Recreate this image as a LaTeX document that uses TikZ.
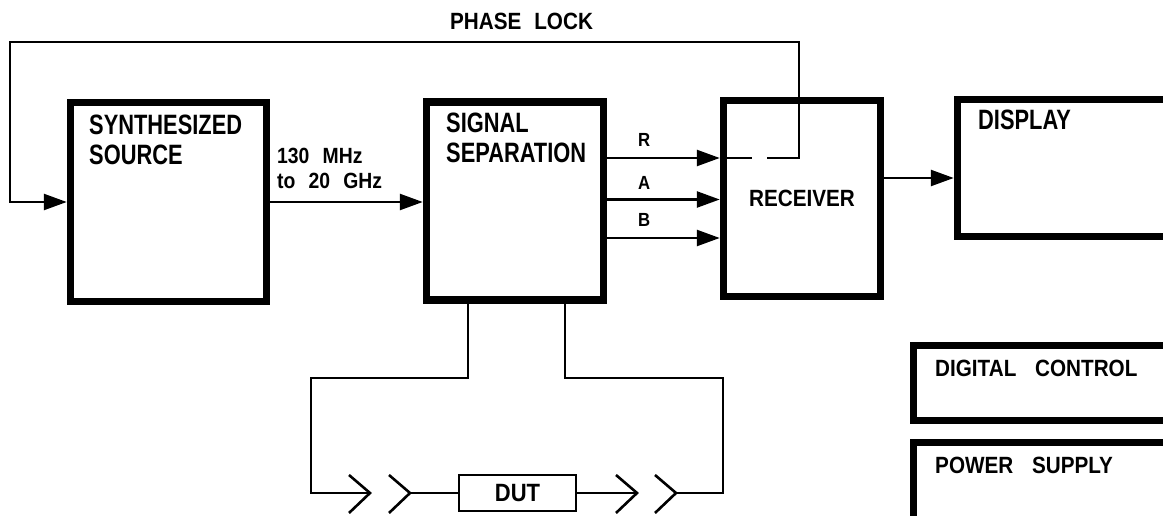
\documentclass[tikz,border=0pt]{standalone}
\usepackage{fontspec}
\usepackage{tikz}
\usetikzlibrary{arrows.meta}
\newfontfamily\ttlfont{Liberation Sans}[FakeStretch=0.78]
\newfontfamily\lblfont{Liberation Sans}[FakeStretch=0.88]
\newcommand{\wgap}{\hspace{0.8em}}

\begin{document}
\begin{tikzpicture}[x=1pt,y=-1pt,
  blk/.style={draw,line width=7.5pt,inner sep=0pt},
  ttl/.style={anchor=north west,inner sep=0pt,align=left,font=\ttlfont\bfseries\fontsize{28}{30}\selectfont},
  lbl/.style={anchor=north west,inner sep=0pt,align=left,font=\lblfont\bfseries\fontsize{23.5}{25}\selectfont},
  sml/.style={lbl,font=\lblfont\bfseries\fontsize{22}{25}\selectfont},
  tag/.style={lbl,font=\lblfont\bfseries\fontsize{19}{20}\selectfont},
  conn/.style={line width=2.6pt,-{Triangle[length=23pt,width=16pt]}},
  wire/.style={line width=2.6pt},
  dutbox/.style={draw,line width=2.6pt,minimum width=117pt,minimum height=36pt,inner sep=0pt,
    font=\lblfont\bfseries\fontsize{25}{27}\selectfont}]
  \clip (0,0) rectangle (1163,516);
  % blocks
  \node[blk,minimum width=196pt,minimum height=199pt] (src) at (168.5,202) {};
  \node[blk,minimum width=177pt,minimum height=198pt] (sep) at (515,201) {};
  \node[blk,minimum width=157pt,minimum height=196pt,
        font=\lblfont\bfseries\fontsize{23.5}{25}\selectfont] (rcv) at (802,198.5) {RECEIVER};
  \node[blk,minimum width=300pt,minimum height=137pt] (disp) at (1107.5,168) {};
  \node[blk,minimum width=340pt,minimum height=75pt] (dig) at (1083.5,383) {};
  \node[blk,minimum width=340pt,minimum height=140pt] (pwr) at (1083.5,512.5) {};
  % titles
  \node[ttl] (srcT) at (89,115) {SYNTHESIZED\\SOURCE};
  \node[ttl] (sepT) at (446,113) {SIGNAL\\SEPARATION};
  \node[ttl] (dispT) at (978,110) {DISPLAY};
  \node[lbl] (digT) at (935,360) {DIGITAL\wgap CONTROL};
  \node[lbl] (pwrT) at (935,457) {POWER\wgap SUPPLY};
  \node[lbl] (lockT) at (450,13) {PHASE\hspace{0.55em}LOCK};
  \node[sml] (freqT) at (277,148) {130\hspace{0.6em}MHz\\to\hspace{0.6em}20\hspace{0.6em}GHz};
  \node[tag] (rT) at (638,133) {R};
  \node[tag] (aT) at (638,176) {A};
  \node[tag] (bT) at (638,213) {B};
  % signal paths
  \coordinate (yR) at (0,158);
  \coordinate (yA) at (0,199.5);
  \coordinate (yB) at (0,238);
  \coordinate (yD) at (0,178);
  \draw[conn] (src.east) -- (src.east -| sep.west);
  \draw[conn] (sep.east |- yR) -- (rcv.west |- yR);
  \draw[conn] (sep.east |- yA) -- (rcv.west |- yA);
  \draw[conn] (sep.east |- yB) -- (rcv.west |- yB);
  \draw[conn] (rcv.east |- yD) -- (disp.west |- yD);
  % phase lock loop
  \coordinate (gapL) at (752,158);
  \coordinate (gapR) at (767,158);
  \coordinate (lockR) at (799,42);
  \coordinate (lockL) at (10,42);
  \draw[wire] (rcv.west |- yR) -- (gapL);
  \draw[conn] (gapR) -- (gapR -| lockR) -- (lockR) -- (lockL) -- (lockL |- src.west) -- (src.west);
  % test set with DUT
  \coordinate (tapL) at (468,378);
  \coordinate (tapR) at (565,378);
  \coordinate (loopL) at (311,493);
  \coordinate (loopR) at (723,493);
  \coordinate (j1) at (370,493);
  \coordinate (j2) at (410,493);
  \coordinate (j3) at (637,493);
  \coordinate (j4) at (676,493);
  \node[dutbox] (dut) at (517.5,493) {DUT};
  \draw[wire] (sep.south -| tapL) -- (tapL) -- (tapL -| loopL) -- (loopL) -- (j1);
  \draw[wire] (j2) -- (dut.west);
  \draw[wire] (dut.east) -- (j3);
  \draw[wire] (j4) -- (loopR) -- (loopR |- tapR) -- (tapR) -- (sep.south -| tapR);
  % connectors
  \foreach \j in {j1,j2,j3,j4} \draw[wire] (\j) ++(-21,-18) -- (\j) -- ++(-21,20);
\end{tikzpicture}
\end{document}
